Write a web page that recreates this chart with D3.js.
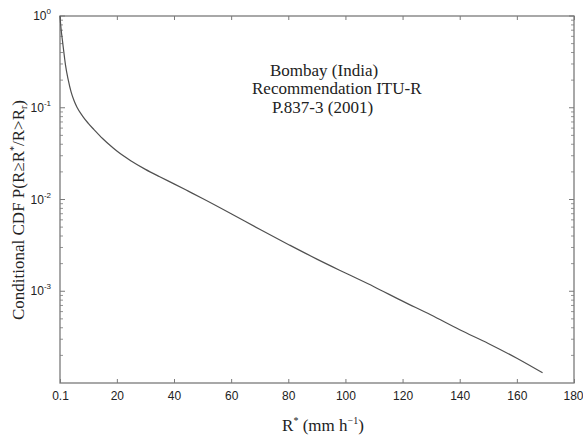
<!DOCTYPE html>
<html><head><meta charset="utf-8">
<script src="https://cdn.jsdelivr.net/npm/d3@7"></script>
<style>body{margin:0;background:#fff}svg{display:block}</style>
</head><body><svg id="c" width="583" height="437"></svg>
<script>
const rainRate = [0.1,0.3,0.5,1,1.7,2,3,4,5,6,8,10,12,15,18,20,25,30,35,40,45,50,60,70,80,90,100,110,120,130,140,150,160,169];
const condCdf = [1.0,0.83,0.71,0.525,0.347,0.295,0.20,0.148,0.120,0.102,0.081,0.0676,0.0578,0.0462,0.0380,0.0337,0.0263,0.0213,0.0177,0.0148,0.01233,0.01026,0.0070,0.00473,0.00324,0.00224,0.00158,0.00112,0.00078,0.00055,0.00038,0.00027,0.000186,0.000129];
const xTicks = [0.1,20,40,60,80,100,120,140,160,180];
const xTickLabels = ["0.1","20","40","60","80","100","120","140","160","180"];
const yTicks = [1,0.1,0.01,0.001];
const yTickExp = ["0","-1","-2","-3"];
const annotation = ["Bombay (India)","Recommendation ITU-R","P.837-3 (2001)"];

const svg = d3.select("#c");
const L=60,R=574,T=16,B=383;
const x = d3.scaleLinear().domain([0.1,180]).range([L,R]);
const y = d3.scaleLog().domain([1e-4,1]).range([B,T]);
const axisCol="#7a7a7a";
const serif="Liberation Serif, Times New Roman, serif";

svg.append("rect").attr("x",L).attr("y",T).attr("width",R-L).attr("height",B-T)
  .attr("fill","none").attr("stroke",axisCol).attr("stroke-width",1.3);

const xa = d3.axisBottom(x).tickValues(xTicks).tickSize(-4).tickPadding(8).tickFormat((d,i)=>xTickLabels[i]);
const gx = svg.append("g").attr("transform",`translate(0,${B})`).call(xa);
gx.select(".domain").remove();
gx.selectAll("line").attr("stroke",axisCol);
gx.selectAll("text").attr("font-family","Liberation Sans, Arial, sans-serif").attr("font-size",12).attr("fill","#222")
  .filter(d=>d===180).attr("text-anchor","end").attr("dx",9);
const xt = d3.axisTop(x).tickValues(xTicks).tickSize(-4).tickFormat("");
const gxt = svg.append("g").attr("transform",`translate(0,${T})`).call(xt);
gxt.select(".domain").remove();
gxt.selectAll("line").attr("stroke",axisCol);

const minor = [];
for (let e=-4;e<0;e++) for (let m=2;m<=9;m++) minor.push(m*Math.pow(10,e));
[[L,1],[R,-1]].forEach(([px,dir])=>{
  svg.append("g").selectAll("line").data(yTicks).join("line")
    .attr("x1",px).attr("x2",px+dir*5).attr("y1",d=>y(d)).attr("y2",d=>y(d)).attr("stroke",axisCol);
  svg.append("g").selectAll("line").data(minor).join("line")
    .attr("x1",px).attr("x2",px+dir*3).attr("y1",d=>y(d)).attr("y2",d=>y(d)).attr("stroke",axisCol).attr("stroke-width",0.8);
});
const yl = svg.append("g").selectAll("text").data(yTicks).join("text")
  .attr("x",L-9).attr("y",d=>y(d)+4).attr("text-anchor","end")
  .attr("font-family","Liberation Sans, Arial, sans-serif").attr("font-size",12).attr("fill","#222");
yl.append("tspan").text("10");
yl.append("tspan").attr("dy",-6).attr("font-size",8).text((d,i)=>yTickExp[i]);

const line = d3.line().x((d,i)=>x(rainRate[i])).y(d=>y(d)).curve(d3.curveMonotoneX);
svg.append("path").datum(condCdf).attr("d",line).attr("fill","none").attr("stroke","#505050").attr("stroke-width",1.2);

const ann = svg.append("text").attr("font-family",serif).attr("font-size",17).attr("fill","#222");
const ax=[270,252,272], ay=[76,94,113];
annotation.forEach((t,i)=>ann.append("tspan").attr("x",ax[i]).attr("y",ay[i]).text(t));

const xtitle = svg.append("text").attr("x",323).attr("y",431).attr("text-anchor","middle")
  .attr("font-family",serif).attr("font-size",17).attr("fill","#222");
xtitle.append("tspan").text("R");
xtitle.append("tspan").attr("dy",-7).attr("font-size",10).text("*");
xtitle.append("tspan").attr("dy",7).text(" (mm h");
xtitle.append("tspan").attr("dy",-7).attr("font-size",10).text("−1");
xtitle.append("tspan").attr("dy",7).text(")");

const ytitle = svg.append("text").attr("transform","translate(24,210) rotate(-90)").attr("text-anchor","middle")
  .attr("font-family",serif).attr("font-size",17).attr("fill","#222");
ytitle.append("tspan").text("Conditional CDF P(R≥R");
ytitle.append("tspan").attr("dy",-7).attr("font-size",10).text("*");
ytitle.append("tspan").attr("dy",7).text("/R>R");
ytitle.append("tspan").attr("dy",3).attr("font-size",10).text("r");
ytitle.append("tspan").attr("dy",-3).text(")");
</script></body></html>
